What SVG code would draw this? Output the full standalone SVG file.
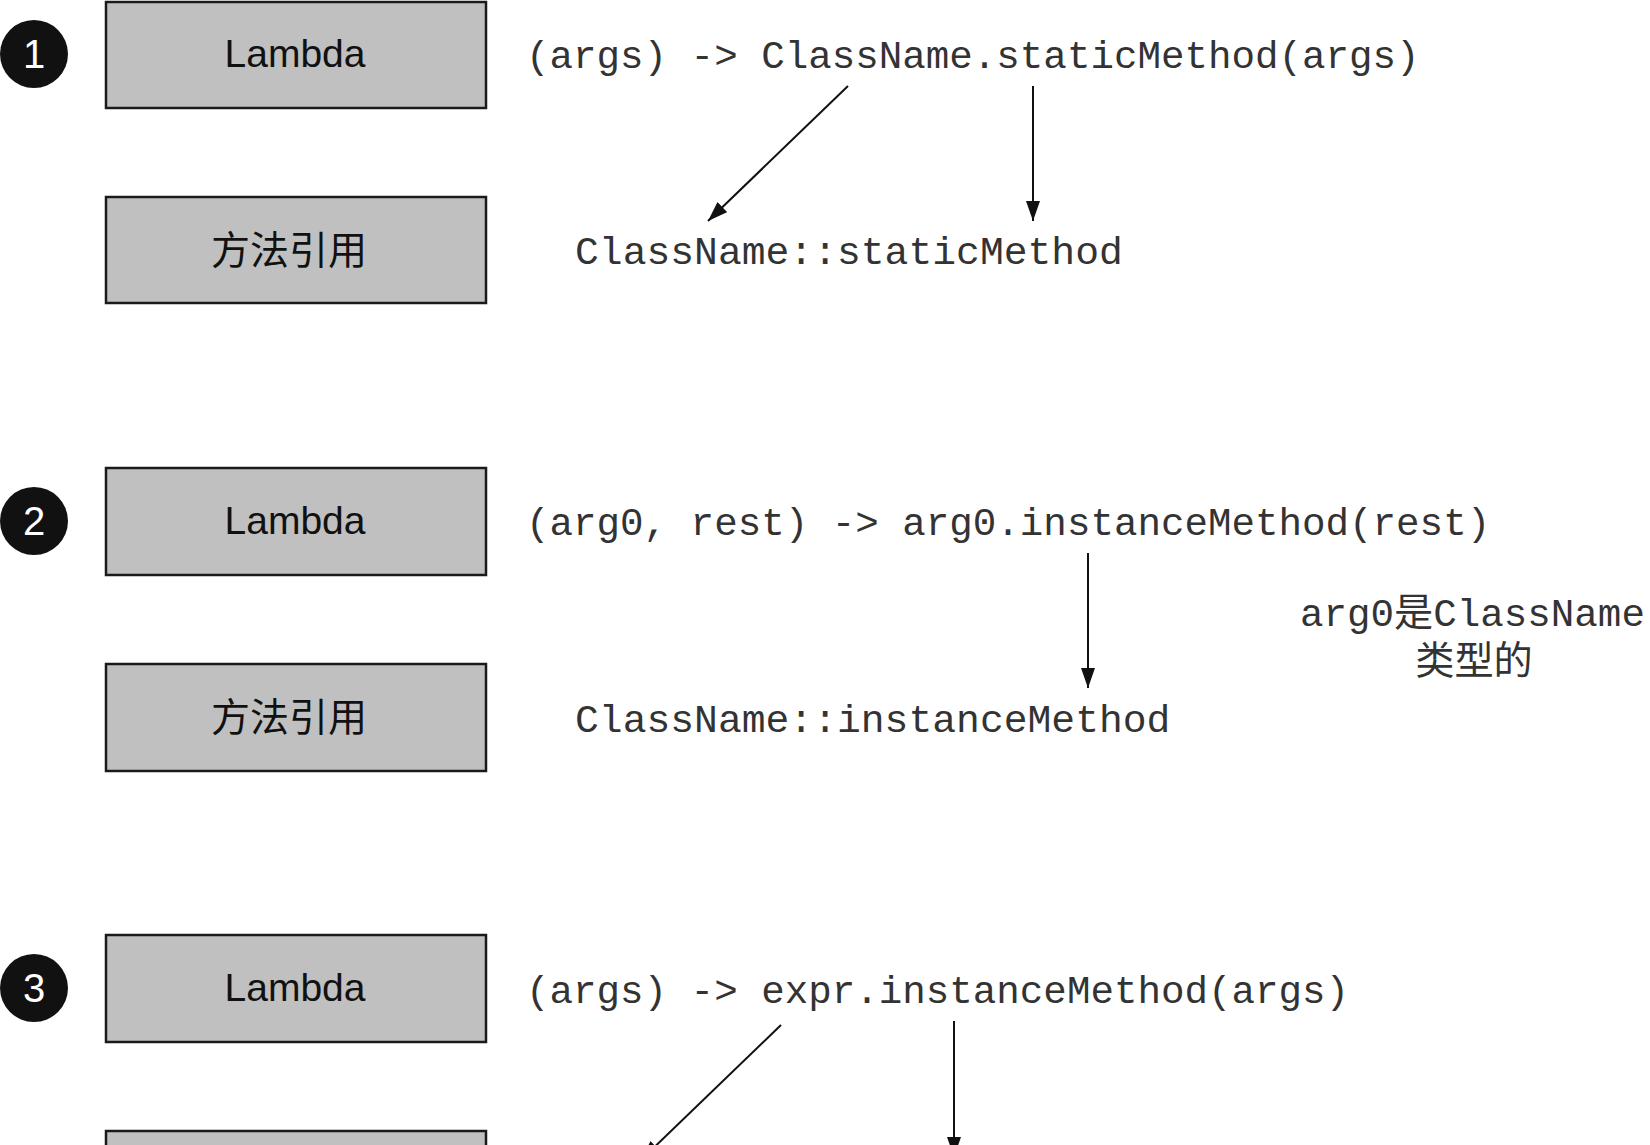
<svg xmlns="http://www.w3.org/2000/svg" width="1650" height="1145" viewBox="0 0 1650 1145">
<style>
.box{fill:#c0c0c0;stroke:#1a1a1a;stroke-width:2.5}
.badge{fill:#111}
.num{font-family:"Liberation Sans",Arial,sans-serif;font-size:40px;fill:#fff;text-anchor:middle}
.lbl{font-family:"Liberation Sans",Arial,sans-serif;font-size:39px;fill:#111;text-anchor:middle}
.cjk{font-family:"Noto Sans CJK SC",sans-serif;font-size:39px;fill:#111;text-anchor:middle}
.code{font-family:"Liberation Mono","Courier New","Noto Sans CJK SC",monospace;font-size:39.2px;fill:#333}
.ref{font-size:39.7px}
.conn{stroke:#111;stroke-width:2;fill:none;marker-end:url(#ah)}
</style>
<defs>
<marker id="ah" markerUnits="userSpaceOnUse" markerWidth="22" markerHeight="14" refX="20" refY="7" orient="auto">
<path d="M0,0 L20,7 L0,14 Z" fill="#111"/>
</marker>
</defs>
<rect width="1650" height="1145" fill="#fff"/>

<g id="badge1"><circle class="badge" cx="34" cy="54" r="34"/><text class="num" x="34" y="68">1</text></g>
<g id="lambda1"><rect class="box" x="106" y="2" width="380" height="106"/><text class="lbl" x="295" y="67">Lambda</text></g>
<g id="method1"><rect class="box" x="106" y="197" width="380" height="106"/><text class="cjk" x="289" y="264">方法引用</text></g>
<g id="code1"><text class="code" x="526" y="68">(args) -&gt; ClassName.staticMethod(args)</text></g>
<g id="ref1"><text class="code ref" x="575" y="264">ClassName::staticMethod</text></g>

<g id="badge2"><circle class="badge" cx="34" cy="521" r="34"/><text class="num" x="34" y="535">2</text></g>
<g id="lambda2"><rect class="box" x="106" y="468" width="380" height="107"/><text class="lbl" x="295" y="534">Lambda</text></g>
<g id="method2"><rect class="box" x="106" y="664" width="380" height="107"/><text class="cjk" x="289" y="731">方法引用</text></g>
<g id="code2"><text class="code" x="526" y="535">(arg0, rest) -&gt; arg0.instanceMethod(rest)</text></g>
<g id="ref2"><text class="code ref" x="575" y="732">ClassName::instanceMethod</text></g>
<g id="note2"><text class="code" x="1300" y="626">arg0是ClassName</text><text class="code" x="1474" y="674" text-anchor="middle">类型的</text></g>

<g id="badge3"><circle class="badge" cx="34" cy="988" r="34"/><text class="num" x="34" y="1002">3</text></g>
<g id="lambda3"><rect class="box" x="106" y="935" width="380" height="107"/><text class="lbl" x="295" y="1001">Lambda</text></g>
<g id="method3"><rect class="box" x="106" y="1131" width="380" height="107"/></g>
<g id="code3"><text class="code" x="526" y="1003">(args) -&gt; expr.instanceMethod(args)</text></g>

<g id="connectors">
<line class="conn" x1="848" y1="86" x2="708" y2="221"/>
<line class="conn" x1="1033" y1="86" x2="1033" y2="221"/>
<line class="conn" x1="1088" y1="553" x2="1088" y2="688"/>
<line class="conn" x1="781" y1="1025" x2="641" y2="1160"/>
<line class="conn" x1="954" y1="1021" x2="954" y2="1157"/>
</g>
</svg>
